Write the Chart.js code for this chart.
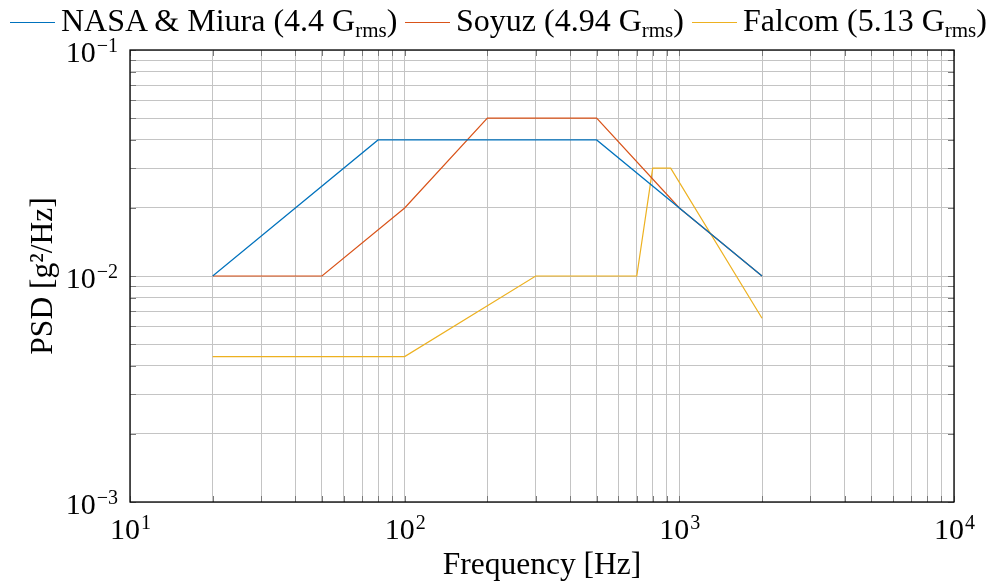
<!DOCTYPE html>
<html>
<head>
<meta charset="utf-8">
<script src="https://cdn.jsdelivr.net/npm/chart.js@4.4.1/dist/chart.umd.min.js"></script>
<style>
  body { margin: 0; background: #fff; }
  #wrap { position: relative; width: 990px; height: 582px; font-family: "Liberation Serif", serif; }
  #psd { position: absolute; left: 0; top: 0; }
  .leg { position: absolute; top: 0px; font-size: 32px; line-height: 40px; white-space: nowrap; color: #000; }
  .leg i { display: inline-block; width: 45px; height: 1.2px; vertical-align: middle; margin-right: 6px; position: relative; top: -1px; }
  .leg sub { font-size: 21px; vertical-align: -6px; line-height: 0; }
</style>
</head>
<body>
<div id="wrap">
  <canvas id="psd" width="990" height="582"></canvas>
</div>
<script>
// series (frequency in Hz, PSD in g^2/Hz)
const nasaFreq = [20, 80, 500, 2000];
const nasaPsd = [0.01, 0.04, 0.04, 0.01];

const soyuzFreq = [20, 50, 100, 200, 500, 1000, 2000];
const soyuzPsd = [0.01, 0.01, 0.02, 0.05, 0.05, 0.02, 0.01];

const falcomFreq = [20, 100, 300, 700, 800, 930, 2000];
const falcomPsd = [0.0044, 0.0044, 0.01, 0.01, 0.03, 0.03, 0.0065];

const seriesNames = ['NASA & Miura (4.4 G', 'Soyuz (4.94 G', 'Falcom (5.13 G'];
const seriesColors = ['#0072BD', '#D95319', '#EDB120'];

// axis decades (labelled ticks)
const xDecades = [10, 100, 1000, 10000];
const yDecades = [0.001, 0.01, 0.1];

function gridValues(decades) {
    let vals = [];
    for (let i = 0; i < decades.length - 1; i++) {
        for (let k = 1; k < 10; k++) vals.push(+(decades[i] * k).toPrecision(3));
    }
    vals.push(decades[decades.length - 1]);
    return vals;
}

function toPoints(xs, ys) {
    return xs.map((x, i) => ({x: x, y: ys[i]}));
}

// legend as html so the subscript works
const legendX = [10, 405, 692];
seriesNames.forEach((name, i) => {
    const d = document.createElement('div');
    d.className = 'leg';
    d.style.left = legendX[i] + 'px';
    d.innerHTML = '<i style="background:' + seriesColors[i] + '"></i>' +
        name.replace('&', '&amp;') + '<sub>rms</sub>)';
    document.getElementById('wrap').appendChild(d);
});

const FONT = '"Liberation Serif", serif';

function drawPow(ctx, x, y, exp, align) {
    ctx.font = '30px ' + FONT;
    const w1 = ctx.measureText('10').width;
    ctx.font = '20px ' + FONT;
    const w2 = ctx.measureText(exp).width;
    let start = align === 'right' ? x - w1 - w2 : x - (w1 + w2) / 2;
    ctx.textAlign = 'left';
    ctx.textBaseline = 'alphabetic';
    ctx.font = '30px ' + FONT;
    ctx.fillText('10', start, y);
    ctx.font = '20px ' + FONT;
    ctx.fillText(exp, start + w1 + 1, y - 10);
}

const frame = {
    id: 'frame',
    afterDraw(chart) {
        const ctx = chart.ctx, a = chart.chartArea;
        const xs = chart.scales.x, ys = chart.scales.y;
        ctx.save();
        // inward ticks on all sides
        ctx.strokeStyle = '#7a7a7a';
        ctx.lineWidth = 1;
        ctx.beginPath();
        gridValues(xDecades).forEach(v => {
            const px = Math.round(xs.getPixelForValue(v)) + 0.5;
            ctx.moveTo(px, a.bottom); ctx.lineTo(px, a.bottom - 6);
            ctx.moveTo(px, a.top); ctx.lineTo(px, a.top + 6);
        });
        gridValues(yDecades).forEach(v => {
            const py = Math.round(ys.getPixelForValue(v)) + 0.5;
            ctx.moveTo(a.left, py); ctx.lineTo(a.left + 6, py);
            ctx.moveTo(a.right, py); ctx.lineTo(a.right - 6, py);
        });
        ctx.stroke();
        // box
        ctx.strokeStyle = '#000';
        ctx.lineWidth = 1.3;
        ctx.strokeRect(a.left, a.top, a.right - a.left, a.bottom - a.top);
        // tick labels
        ctx.fillStyle = '#000';
        xDecades.forEach(v => {
            drawPow(ctx, xs.getPixelForValue(v), a.bottom + 37, String(Math.round(Math.log10(v))), 'center');
        });
        yDecades.forEach(v => {
            const e = Math.round(Math.log10(v));
            drawPow(ctx, a.left - 13, ys.getPixelForValue(v) + 12, '\u2212' + Math.abs(e), 'right');
        });
        // axis titles
        ctx.font = '31.5px ' + FONT;
        ctx.textAlign = 'center';
        ctx.textBaseline = 'alphabetic';
        ctx.fillText('Frequency [Hz]', (a.left + a.right) / 2, 574);
        ctx.translate(52, (a.top + a.bottom) / 2);
        ctx.rotate(-Math.PI / 2);
        ctx.fillText('PSD [g\u00B2/Hz]', 0, 0);
        ctx.restore();
    }
};

function logAxis(min, max, decades) {
    return {
        type: 'logarithmic',
        min: min,
        max: max,
        afterBuildTicks: s => { s.ticks = gridValues(decades).map(v => ({value: v})); },
        ticks: { display: false },
        grid: { color: '#c4c4c4', lineWidth: 1, drawTicks: false },
        border: { display: false }
    };
}

function initiatePsdChart() {
    const grapharea = document.getElementById('psd').getContext('2d');
    const sets = [[nasaFreq, nasaPsd], [soyuzFreq, soyuzPsd], [falcomFreq, falcomPsd]];
    return new Chart(grapharea, {
        type: 'line',
        data: {
            datasets: sets.map((s, i) => ({
                label: seriesNames[i] + 'rms)',
                data: toPoints(s[0], s[1]),
                borderColor: seriesColors[i],
                borderWidth: 1.2,
                pointRadius: 0,
                tension: 0,
                fill: false
            }))
        },
        options: {
            responsive: false,
            animation: false,
            layout: { padding: { left: 130, right: 36, top: 50, bottom: 80 } },
            plugins: { legend: { display: false }, tooltip: { enabled: false } },
            scales: {
                x: logAxis(10, 10000, xDecades),
                y: logAxis(0.001, 0.1, yDecades)
            }
        },
        plugins: [frame]
    });
}

initiatePsdChart();
</script>
</body>
</html>
